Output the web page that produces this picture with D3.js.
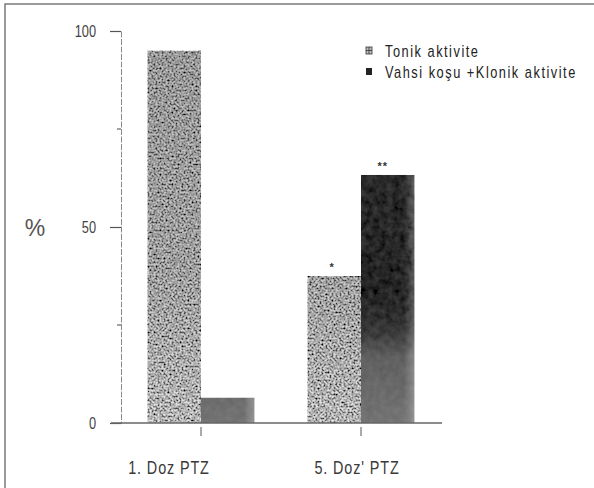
<!DOCTYPE html>
<html>
<head>
<meta charset="utf-8">
<script src="https://cdn.jsdelivr.net/npm/d3@7"></script>
<style>
  html, body { margin: 0; padding: 0; background: #fff; }
  svg { display: block; }
  text { font-family: "Liberation Sans", Arial, sans-serif; }
</style>
</head>
<body>
<svg id="chart" width="594" height="488"></svg>
<script>
// ---- data ----
const categories = ["1. Doz PTZ", "5. Doz' PTZ"];
const seriesNames = ["Tonik aktivite", "Vahsi koşu +Klonik aktivite"];
const tonikValues = [95, 37.5];
const vahsiValues = [6.5, 63.3];
const tonikMarks = ["", "*"];
const vahsiMarks = ["", "**"];
const yTickValues = [0, 50, 100];
const yMinorTicks = [25, 75];

// ---- layout ----
const W = 594, H = 488;
const NARROW = 0.8;
const svg = d3.select("#chart");
const defs = svg.append("defs");

function narrowText(parent, x, y, str, size, anchor, fill, spacing) {
  const gg = parent.append("g").attr("transform", `translate(${x},${y}) scale(${NARROW},1)`);
  return gg.append("text").attr("x", 0).attr("y", 0)
    .attr("text-anchor", anchor).attr("font-size", size).attr("fill", fill)
    .attr("letter-spacing", spacing || 0).text(str);
}

// speckled texture for Tonik bars
const fs = defs.append("filter").attr("id", "speckle")
  .attr("x", 0).attr("y", 0).attr("width", 1).attr("height", 1);
fs.append("feTurbulence").attr("type", "fractalNoise").attr("baseFrequency", 0.5)
  .attr("numOctaves", 2).attr("seed", 7).attr("result", "noise");
fs.append("feColorMatrix").attr("in", "noise").attr("type", "matrix")
  .attr("values", "2.3 0 0 0 -0.55  2.3 0 0 0 -0.55  2.3 0 0 0 -0.55  0 0 0 0 1")
  .attr("result", "gray");
fs.append("feBlend").attr("in", "gray").attr("in2", "SourceGraphic").attr("mode", "multiply").attr("result", "mix");
fs.append("feComposite").attr("in", "mix").attr("in2", "SourceAlpha").attr("operator", "in");

// soft blotches for Vahsi bars
const fv = defs.append("filter").attr("id", "grain")
  .attr("x", 0).attr("y", 0).attr("width", 1).attr("height", 1);
fv.append("feTurbulence").attr("type", "fractalNoise").attr("baseFrequency", 0.15)
  .attr("numOctaves", 3).attr("seed", 3).attr("result", "noise");
fv.append("feColorMatrix").attr("in", "noise").attr("type", "matrix")
  .attr("values", "1 0 0 0 0  1 0 0 0 0  1 0 0 0 0  0 0 0 0 1").attr("result", "gray");
fv.append("feComposite").attr("in", "SourceGraphic").attr("in2", "gray").attr("operator", "arithmetic")
  .attr("k1", 0).attr("k2", 1).attr("k3", 0.06).attr("k4", -0.03).attr("result", "mix");
fv.append("feComposite").attr("in", "mix").attr("in2", "SourceAlpha").attr("operator", "in");

const y = d3.scaleLinear().domain([0, 100]).range([423, 31]);
const x0 = d3.scaleBand().domain(categories).range([121, 441])
  .paddingInner(0.33).paddingOuter(0.165);
const x1 = d3.scaleBand().domain([0, 1]).range([0, x0.bandwidth()]);

// gradients (user space so they follow the value axis)
const gT = defs.append("linearGradient").attr("id", "gTonik")
  .attr("gradientUnits", "userSpaceOnUse").attr("x1", 0).attr("x2", 0)
  .attr("y1", y(100)).attr("y2", y(0));
[[0, "#bdbdbd"], [0.6, "#c6c6c6"], [1, "#e2e2e2"]].forEach(([o, c]) =>
  gT.append("stop").attr("offset", o).attr("stop-color", c));
const gV = defs.append("linearGradient").attr("id", "gVahsi")
  .attr("gradientUnits", "userSpaceOnUse").attr("x1", 0).attr("x2", 0)
  .attr("y1", y(65)).attr("y2", y(0));
[[0, "#2a2a2a"], [0.5, "#242424"], [0.64, "#383838"], [0.74, "#606060"], [1, "#747474"]].forEach(([o, c]) =>
  gV.append("stop").attr("offset", o).attr("stop-color", c));
const gH = defs.append("linearGradient").attr("id", "gEdge")
  .attr("x1", 0).attr("x2", 1).attr("y1", 0).attr("y2", 0);
[[0, "#fff", 0], [0.8, "#fff", 0], [1, "#fff", 0.25]].forEach(([o, c, a]) =>
  gH.append("stop").attr("offset", o).attr("stop-color", c).attr("stop-opacity", a));

// frame (top and left edges visible)
svg.append("rect").attr("x", 5).attr("y", 4).attr("width", W + 10).attr("height", H + 10)
  .attr("fill", "none").attr("stroke", "#7a7a7a").attr("stroke-width", 1.5);

// bars
const rows = categories.map((c, i) => ({ cat: c, vals: [tonikValues[i], vahsiValues[i]], marks: [tonikMarks[i], vahsiMarks[i]] }));
const g = svg.append("g");
rows.forEach(r => {
  r.vals.forEach((v, s) => {
    const bx = x0(r.cat) + x1(s), bw = x1.bandwidth();
    g.append("rect")
      .attr("x", bx).attr("y", y(v))
      .attr("width", bw).attr("height", y(0) - y(v))
      .attr("fill", s === 0 ? "url(#gTonik)" : "url(#gVahsi)")
      .attr("filter", s === 0 ? "url(#speckle)" : "url(#grain)");
    if (s === 1) {
      g.append("rect")
        .attr("x", bx).attr("y", y(v))
        .attr("width", bw).attr("height", y(0) - y(v))
        .attr("fill", "url(#gEdge)");
    }
    if (r.marks[s]) {
      g.append("text")
        .attr("x", bx + bw / 2 - (s === 0 ? 2 : 5))
        .attr("y", y(v) - 5)
        .attr("text-anchor", "middle")
        .attr("font-size", 11).attr("font-weight", "bold").attr("fill", "#333")
        .attr("letter-spacing", 1)
        .text(r.marks[s]);
    }
  });
});

// y axis
const yAxis = d3.axisLeft(y).tickValues(yTickValues).tickSize(11).tickPadding(14).tickFormat(d3.format("d"));
const ya = svg.append("g").attr("transform", "translate(121,0)").call(yAxis);
ya.select(".domain").attr("stroke", "#8a8a8a").attr("stroke-width", 1).attr("stroke-dasharray", "6,1.5");
ya.selectAll(".tick line").attr("stroke", "#555").attr("stroke-width", 1.2);
ya.selectAll(".tick text").attr("font-size", 16).attr("fill", "#444")
  .attr("font-family", "'Liberation Sans', Arial, sans-serif")
  .attr("transform", `scale(${NARROW},1)`).attr("x", -25 / NARROW);
svg.append("g").selectAll("line").data(yMinorTicks).join("line")
  .attr("x1", 117).attr("x2", 121).attr("y1", d => y(d)).attr("y2", d => y(d))
  .attr("stroke", "#666").attr("stroke-width", 1.2);

// x axis
const xAxis = d3.axisBottom(x0).tickSize(12).tickFormat("");
const xa = svg.append("g").attr("transform", `translate(0,${y(0) + 1})`).call(xAxis);
xa.select(".domain").remove();
xa.selectAll(".tick line").attr("stroke", "#555").attr("stroke-width", 1).attr("y1", 3);
svg.append("line").attr("x1", 111).attr("x2", 442).attr("y1", y(0)).attr("y2", y(0))
  .attr("stroke", "#666").attr("stroke-width", 1.3);

// category labels
const labelNudge = [-32, -4];
const lab = svg.append("g");
categories.forEach((d, i) => {
  narrowText(lab, x0(d) + x0.bandwidth() / 2 + labelNudge[i], 474, d, 18, "middle", "#3a3a3a", 1.1);
});

// y label
svg.append("text").attr("x", 35).attr("y", 236).attr("text-anchor", "middle")
  .attr("font-size", 23).attr("fill", "#555").text("%");

// legend
const lg = svg.append("g").attr("transform", "translate(366,0)");
const legendY = [51, 72];
seriesNames.forEach((name, i) => {
  const row = lg.append("g").attr("transform", `translate(0,${legendY[i]})`);
  if (i === 0) {
    row.append("rect").attr("x", 0).attr("y", -4).attr("width", 6).attr("height", 7)
      .attr("fill", "#bbb").attr("stroke", "#333").attr("stroke-width", 0.8);
    row.append("path").attr("d", "M0,-0.5H6M3,-4V3").attr("stroke", "#333").attr("stroke-width", 0.8);
  } else {
    row.append("rect").attr("x", 0).attr("y", -4).attr("width", 6).attr("height", 7).attr("fill", "#222");
  }
  narrowText(row, 19, 6, name, 16, "start", "#222", 1.9);
});
</script>
</body>
</html>
